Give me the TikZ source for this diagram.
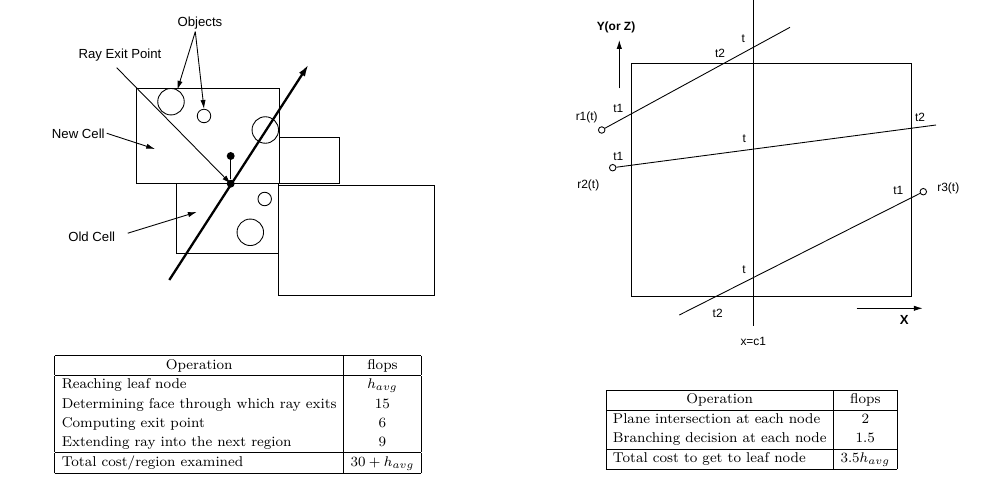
\documentclass[tikz,border=0pt]{standalone}
\usepackage{fontspec}
\usepackage{amsmath}
\usetikzlibrary{arrows.meta, positioning}
\newfontfamily\lblfont{Liberation Sans}
\setlength{\tabcolsep}{4pt}

\begin{document}
\begin{tikzpicture}[x=0.02cm, y=-0.02cm,
    cell/.style={draw, line width=0.5pt},
    obj/.style={circle, draw, line width=0.5pt, inner sep=0pt, minimum size=0.53cm},
    smallobj/.style={obj, minimum size=0.27cm},
    lbl/.style={font=\lblfont\fontsize{7.5}{9}\selectfont, inner sep=1pt},
    axlbl/.style={font=\lblfont\fontsize{6.8}{8}\selectfont, inner sep=1pt},
    pointer/.style={-{Latex[length=5pt, width=3pt]}, line width=0.5pt},
    ray/.style={-{Latex[length=7pt, width=4pt]}, line width=1.3pt},
    dot/.style={circle, fill, inner sep=0pt, minimum size=4.5pt},
    endpt/.style={circle, draw, inner sep=0pt, minimum size=0.13cm, line width=0.5pt},
    tbl/.style={inner sep=0pt, font=\fontsize{8.1}{10.9}\selectfont}]

    \useasboundingbox (0,0) rectangle (981,486);

    % Cells
    \draw[cell] (136.7,88.3) rectangle (279.3,183.7);
    \draw[cell] (279.3,137.3) rectangle (339.3,183.7);
    \draw[cell] (176,183.7) rectangle (278,253.3);
    \draw[cell] (278,185.7) rectangle (434.3,295);

    % Objects
    \node[obj] (objA) at (171,101.7) {};
    \node[smallobj] (objB) at (204,116) {};
    \node[obj] (objC) at (265.3,130) {};
    \node[smallobj] (objD) at (264.7,199) {};
    \node[obj] (objE) at (250.3,232.3) {};

    % Ray through the cells
    \coordinate (raystart) at (169.3,280);
    \coordinate (rayend) at (308.7,64.3);
    \draw[ray] (raystart) -- (rayend);
    \node[dot] (exitpt) at (230.7,183.7) {};
    \node[dot] (normpt) at (230.7,156) {};
    \draw[line width=0.5pt] (normpt) -- (exitpt);

    % Labels
    \node[lbl] (objlbl) at (200,23.3) {Objects};
    \coordinate (objfork) at (195.3,31.7);
    \draw[pointer] (objfork) -- (objA.62);
    \draw[pointer] (objfork) -- (objB.north);

    \node[lbl] (exitlbl) at (120,55) {Ray Exit Point};
    \coordinate (exitfoot) at (116.7,67.7);
    \draw[pointer] (exitfoot) -- (exitpt.center);

    \node[lbl] (newlbl) at (78.3,133.3) {New Cell};
    \coordinate (newtip) at (155,149);
    \draw[pointer] (newlbl.east) -- (newtip);

    \node[lbl] (oldlbl) at (91.7,236.7) {Old Cell};
    \coordinate (oldtip) at (196.7,212);
    \draw[pointer] ([xshift=6pt, yshift=2pt]oldlbl.east) -- (oldtip);

    % Right: region and splitting plane
    \draw[cell] (631,63.3) rectangle (911.7,296);
    \coordinate (planetop) at (753,0);
    \coordinate (planebot) at (753,326);
    \draw[cell] (planetop) -- (planebot);
    \node[axlbl] (cutlbl) at (753.3,341.7) {x=c1};

    % Axes
    \coordinate (ybase) at (619.3,88.3);
    \coordinate (ytip) at (619.3,40);
    \draw[pointer] (ybase) -- (ytip);
    \node[axlbl, font=\lblfont\bfseries\fontsize{6.8}{8}\selectfont] (ylbl) at (616,27.7) {Y(or Z)};
    \coordinate (xbase) at (856.7,308.3);
    \coordinate (xtip) at (922.7,308.3);
    \draw[pointer] (xbase) -- (xtip);
    \node[axlbl, font=\lblfont\bfseries\fontsize{7.5}{9}\selectfont] (xlbl) at (904.3,320) {X};

    % Rays r1, r2, r3
    \node[endpt] (r1) at (601.7,130) {};
    \coordinate (r1end) at (790,27.3);
    \draw[line width=0.5pt] (r1) -- (r1end);
    \node[endpt] (r2) at (612.7,167.7) {};
    \coordinate (r2end) at (936,125);
    \draw[line width=0.5pt] (r2) -- (r2end);
    \node[endpt] (r3) at (923.3,191.7) {};
    \coordinate (r3end) at (679.3,315);
    \draw[line width=0.5pt] (r3) -- (r3end);

    % Ray labels
    \node[axlbl] (r1lbl) at (586.7,117.7) {r1(t)};
    \node[axlbl] (r1a) at (618.3,108.3) {t1};
    \node[axlbl] (r1b) at (720,53.3) {t2};
    \node[axlbl] (r1c) at (743.3,38.3) {t};
    \node[axlbl] (r2lbl) at (588.3,185) {r2(t)};
    \node[axlbl] (r2a) at (618.3,156) {t1};
    \node[axlbl] (r2b) at (920,117.3) {t2};
    \node[axlbl] (r2c) at (744.3,138.3) {t};
    \node[axlbl] (r3lbl) at (948.3,188.3) {r3(t)};
    \node[axlbl] (r3a) at (898.3,190) {t1};
    \node[axlbl] (r3b) at (717.7,313.3) {t2};
    \node[axlbl] (r3c) at (744,269.3) {t};

    % Cost tables
    \node[tbl] (costleft) at (238,414.5) {%
        \begin{tabular}{|l|c|}
            \hline
            \multicolumn{1}{|c|}{Operation} & flops \\ \hline
            Reaching leaf node & $h_{avg}$ \\
            Determining face through which ray exits & 15 \\
            Computing exit point & 6 \\
            Extending ray into the next region & 9 \\ \hline
            Total cost/region examined & $30+h_{avg}$\rule[-4pt]{0pt}{10pt} \\ \hline
        \end{tabular}};
    \node[tbl] (costright) at (751.5,429.5) {%
        \begin{tabular}{|l|c|}
            \hline
            \multicolumn{1}{|c|}{Operation} & flops \\ \hline
            Plane intersection at each node & 2 \\
            Branching decision at each node & 1.5 \\ \hline
            Total cost to get to leaf node & $3.5h_{avg}$ \\ \hline
        \end{tabular}};
\end{tikzpicture}
\end{document}
